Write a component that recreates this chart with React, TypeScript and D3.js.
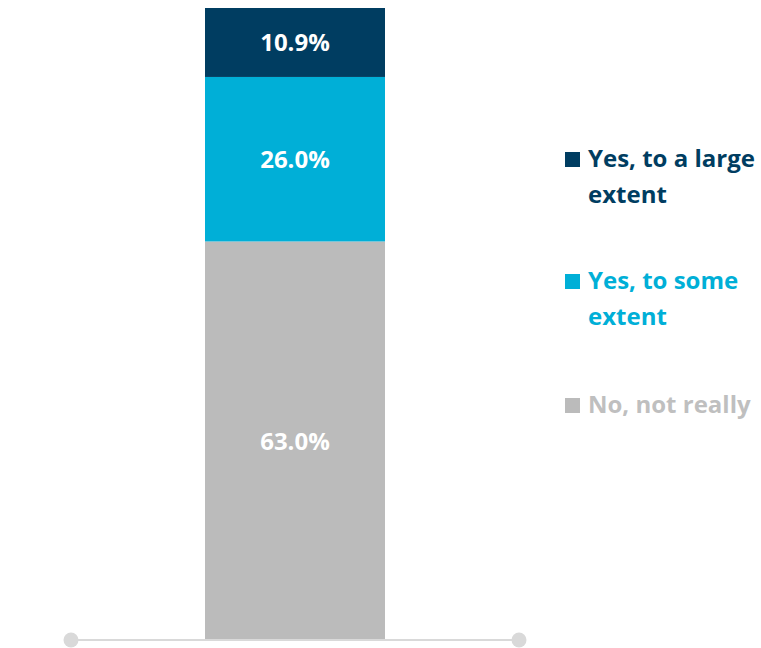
import React from "react";
import * as d3 from "d3";

const categories = ["No, not really", "Yes, to some extent", "Yes, to a large extent"];
const values = [63.0, 26.0, 10.9];
const colors = ["#BBBBBB", "#00AFD7", "#003D61"];
const legendTextColors = ["#BFBFBF", "#00AFD7", "#003D61"];
const legendLines = [["No, not really"], ["Yes, to some", "extent"], ["Yes, to a large", "extent"]];

const W = 761;
const H = 648;

export default function App() {
  const total = d3.sum(values);
  const y = d3.scaleLinear().domain([0, total]).range([640, 8]);
  const x = d3.scaleBand().domain(["all"]).range([70, 520]).paddingInner(0).paddingOuter(0.75);
  let cum = 0;
  const segs = values.map((v, i) => {
    const s = { y0: cum, y1: cum + v, v, i };
    cum += v;
    return s;
  });
  const bx = x("all")!;
  const bw = x.bandwidth();
  const font = "'Open Sans', Lato, sans-serif";
  const legendY = [413, 289, 167];
  return (
    <svg width={W} height={H} style={{ position: "absolute", left: 0, top: 0 }} fontFamily={font}>
      <rect width={W} height={H} fill="#fff" />
      {segs.map((s) => (
        <g key={s.i}>
          <rect x={bx} y={y(s.y1)} width={bw} height={y(s.y0) - y(s.y1)} fill={colors[s.i]} />
          <text
            x={bx + bw / 2}
            y={(y(s.y0) + y(s.y1)) / 2 + 9}
            textAnchor="middle"
            fill="#fff"
            fontWeight="bold"
            fontSize={24}
          >
            {s.v.toFixed(1)}%
          </text>
        </g>
      ))}
      <line x1={70} x2={520} y1={640} y2={640} stroke="#D9D9D9" strokeWidth={2} />
      <circle cx={71} cy={640} r={7.5} fill="#D9D9D9" />
      <circle cx={519} cy={640} r={7.5} fill="#D9D9D9" />
      {categories.map((c, i) => (
        <g key={c}>
          <rect x={565} y={legendY[i] - 15} width={15} height={15} fill={colors[i]} />
          {legendLines[i].map((t, j) => (
            <text
              key={j}
              x={588}
              y={legendY[i] + j * 36}
              fill={legendTextColors[i]}
              fontWeight="bold"
              fontSize={24}
            >
              {t}
            </text>
          ))}
        </g>
      ))}
    </svg>
  );
}
